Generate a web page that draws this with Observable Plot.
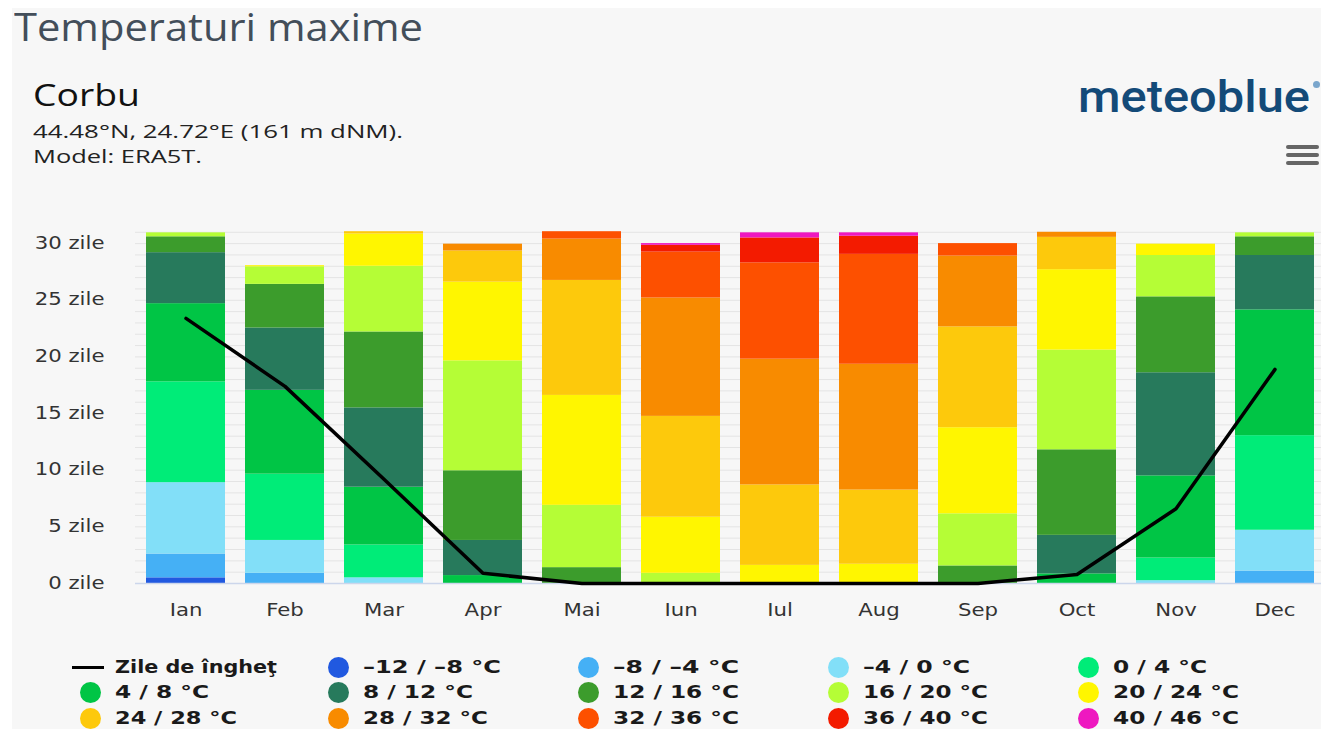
<!DOCTYPE html>
<html>
<head>
<meta charset="utf-8">
<script src="https://cdn.jsdelivr.net/npm/d3@7"></script>
<script src="https://cdn.jsdelivr.net/npm/@observablehq/plot@0.6"></script>
<style>
  html, body { margin: 0; padding: 0; }
  body { width: 1321px; height: 729px; overflow: hidden; position: relative; background: #ffffff; font-family: "DejaVu Sans", sans-serif; }
  #panel { position: absolute; left: 12px; top: 8px; right: 0; bottom: 0; background: #f7f7f7; }
  .txt { position: absolute; white-space: nowrap; transform-origin: left center; display: inline-block; }
  #title { left: 14px; top: 3px; font-family: "Open Sans", sans-serif; font-size: 38px; line-height: 46px; color: #434e5a; }
  #place { left: 33px; top: 75px; font-family: "Open Sans", sans-serif; font-size: 31px; line-height: 38px; color: #111; }
  #coords { left: 33px; top: 119px; font-family: "Open Sans", sans-serif; font-size: 19px; line-height: 24px; color: #222; }
  #model { left: 33px; top: 144px; font-family: "Open Sans", sans-serif; font-size: 19px; line-height: 24px; color: #222; }
  #logo { left: 1078px; top: 71px; font-family: "Roboto", sans-serif; font-weight: 500; font-size: 44px; line-height: 52px; color: #134a78; }
  #reg { position: absolute; left: 1313px; top: 81px; width: 7px; height: 7px; border-radius: 50%; background: #7aa6cc; }
  .burger { position: absolute; left: 1286px; width: 33px; height: 4px; border-radius: 2px; background: #666; }
  #chart { position: absolute; left: 0; top: 0; }
  .lg-dot { position: absolute; width: 21px; height: 21px; border-radius: 50%; }
  .lg-line { position: absolute; width: 32px; height: 3px; background: #000; }
  .lg-txt { position: absolute; white-space: nowrap; font-family: "DejaVu Sans", sans-serif; font-weight: bold; font-size: 18px; line-height: 20px; color: #1a1a1a; transform-origin: left center; }
</style>
</head>
<body>
<div id="panel"></div>
<div id="title" class="txt">Temperaturi maxime</div>
<div id="place" class="txt">Corbu</div>
<div id="coords" class="txt">44.48°N, 24.72°E (161 m dNM).</div>
<div id="model" class="txt">Model: ERA5T.</div>
<div id="logo" class="txt">meteoblue</div>
<div id="reg"></div>
<div class="burger" style="top:145px"></div>
<div class="burger" style="top:153px"></div>
<div class="burger" style="top:161px"></div>
<div id="chart"></div>
<div id="legend"></div>
<script>
// ---- data ----
const months = ["Ian", "Feb", "Mar", "Apr", "Mai", "Iun", "Iul", "Aug", "Sep", "Oct", "Nov", "Dec"];
const ranges = ["-12 / -8 °C", "-8 / -4 °C", "-4 / 0 °C", "0 / 4 °C", "4 / 8 °C", "8 / 12 °C", "12 / 16 °C",
                "16 / 20 °C", "20 / 24 °C", "24 / 28 °C", "28 / 32 °C", "32 / 36 °C", "36 / 40 °C", "40 / 46 °C"];
const rangeColors = ["#2159e0", "#45b0f5", "#82dff8", "#00ec78", "#00c545", "#277a5c", "#3c9c2c",
                     "#b5fd36", "#fff600", "#fdc90c", "#f88b00", "#fd5000", "#f31b00", "#ee18c0"];
//                  Ian   Feb   Mar   Apr   Mai   Iun    Iul   Aug   Sep   Oct   Nov   Dec
const daysM12toM8 = [0.5,  0,    0,    0,    0,    0,     0,    0,    0,    0,    0,    0];
const daysM8toM4  = [2.1,  0.9,  0,    0,    0,    0,     0,    0,    0,    0,    0,    1.1];
const daysM4to0   = [6.3,  2.9,  0.5,  0,    0,    0,     0,    0,    0,    0,    0.25, 3.6];
const days0to4    = [8.9,  5.85, 2.9,  0,    0,    0,     0,    0,    0,    0,    2.0,  8.35];
const days4to8    = [6.9,  7.4,  5.1,  0.7,  0,    0,     0,    0,    0,    0.85, 7.25, 11.1];
const days8to12   = [4.5,  5.5,  7.0,  3.1,  0,    0,     0,    0,    0,    3.4,  9.1,  4.8];
const days12to16  = [1.4,  3.85, 6.7,  6.15, 1.4,  0,     0,    0,    1.55, 7.55, 6.7,  1.65];
const days16to20  = [0.35, 1.55, 5.8,  9.7,  5.5,  0.9,   0,    0,    4.6,  8.8,  3.65, 0.35];
const days20to24  = [0,    0.1,  2.85, 6.95, 9.7,  4.95,  1.6,  1.7,  7.6,  7.1,  1.0,  0];
const days24to28  = [0,    0,    0.2,  2.75, 10.15, 8.9,  7.1,  6.55, 8.9,  2.85, 0,    0];
const days28to32  = [0,    0,    0,    0.6,  3.65, 10.45, 11.1, 11.1, 6.25, 0.45, 0,    0];
const days32to36  = [0,    0,    0,    0,    0.65, 4.05,  8.5,  9.7,  1.1,  0,    0,    0];
const days36to40  = [0,    0,    0,    0,    0,    0.6,   2.2,  1.6,  0,    0,    0,    0];
const days40to46  = [0,    0,    0,    0,    0,    0.15,  0.45, 0.3,  0,    0,    0,    0];
const frostDays   = [23.4, 17.4, 9.2,  0.9,  0,    0,     0,    0,    0,    0.8,  6.6,  18.9];
const frostLabel = "Zile de îngheţ";
const yTicks = [0, 5, 10, 15, 20, 25, 30];

const series = [daysM12toM8, daysM8toM4, daysM4to0, days0to4, days4to8, days8to12, days12to16,
                days16to20, days20to24, days24to28, days28to32, days32to36, days36to40, days40to46];
const legendLabels = ranges.map(r => r.replace(/-/g, "–"));

// tidy rows (coldest range first within each month -> stacked at the bottom)
const rows = [];
series.forEach((vals, ri) => vals.forEach((v, mi) => rows.push({month: months[mi], range: ranges[ri], days: v})));
const frostRows = frostDays.map((v, i) => ({month: months[i], days: v}));

// ---- chart ----
const Y0 = 583, PX_PER_DAY = 11.33;
const chart = Plot.plot({
  width: 1321,
  height: 640,
  marginLeft: 135,
  marginRight: 0,
  marginTop: 0,
  marginBottom: 57,
  style: {background: "transparent", fontFamily: "DejaVu Sans, sans-serif", fontSize: "17px", color: "#333333"},
  x: {domain: months, range: [135.5, 1324.1], paddingInner: 0.2, paddingOuter: 0.1, label: null},
  y: {domain: [0, 31], range: [Y0, Y0 - 31 * PX_PER_DAY], label: null},
  color: {domain: ranges, range: rangeColors},
  marks: [
    Plot.gridY(d3.range(0, 32), {stroke: "#e4e4e4", strokeOpacity: 1, strokeWidth: 1}),
    Plot.barY(rows, {x: "month", y: "days", fill: "range"}),
    Plot.ruleY([0], {stroke: "#ccd6eb", strokeWidth: 1.5}),
    Plot.line(frostRows, {x: "month", y: "days", stroke: "#000000", strokeWidth: 3.5, strokeLinejoin: "round", strokeLinecap: "round"}),
    Plot.axisY({ticks: yTicks, tickSize: 0, tickPadding: 31, dy: 5, tickFormat: d => `${d} zile`, label: null}),
    Plot.axisX({tickSize: 0, tickPadding: 32, label: null})
  ]
});
document.getElementById("chart").appendChild(chart);

// widen tick labels horizontally like the reference rendering
const S = 1.25;
chart.querySelectorAll('[aria-label*="tick label"] text').forEach(t => {
  const x = +t.getAttribute("x") || 0, y = +t.getAttribute("y") || 0;
  t.removeAttribute("x"); t.removeAttribute("y");
  const tr = t.getAttribute("transform") || "";
  t.setAttribute("transform", `${tr} translate(${x},${y}) scale(${S},1)`);
});

// ---- legend ----
const legend = document.getElementById("legend");
const colX = [90, 338, 588, 838, 1088];
const rowY = [667, 692, 718];
const legendTextWidths = [162, 138, 126, 107, 94, 94, 110, 126, 125, 126, 122, 125, 126, 125, 126];
const items = [{type: "line", label: frostLabel}].concat(legendLabels.map((l, i) => ({type: "dot", label: l, color: rangeColors[i]})));
const legendTexts = [];
items.forEach((it, i) => {
  const cx = colX[i % 5], cy = rowY[Math.floor(i / 5)];
  const m = document.createElement("div");
  if (it.type === "line") {
    m.className = "lg-line";
    m.style.left = (cx - 18) + "px"; m.style.top = (cy - 1.5) + "px";
  } else {
    m.className = "lg-dot";
    m.style.left = (cx - 10.5) + "px"; m.style.top = (cy - 10.5) + "px";
    m.style.background = it.color;
  }
  legend.appendChild(m);
  const t = document.createElement("div");
  t.className = "lg-txt";
  t.textContent = it.label;
  t.style.left = (cx + 25) + "px"; t.style.top = (cy - 10) + "px";
  legend.appendChild(t);
  legendTexts.push(t);
});

// fit texts to reference widths
function fitEl(el, w) {
  el.style.transform = "none";
  const nat = el.getBoundingClientRect().width;
  if (nat > 0) el.style.transform = `scaleX(${w / nat})`;
}
function fitAll() {
  fitEl(document.getElementById("title"), 409);
  fitEl(document.getElementById("place"), 107);
  fitEl(document.getElementById("coords"), 370);
  fitEl(document.getElementById("model"), 169);
  fitEl(document.getElementById("logo"), 232);
  legendTexts.forEach((t, i) => fitEl(t, legendTextWidths[i]));
}
fitAll();
if (document.fonts && document.fonts.ready) document.fonts.ready.then(fitAll);
</script>
</body>
</html>
